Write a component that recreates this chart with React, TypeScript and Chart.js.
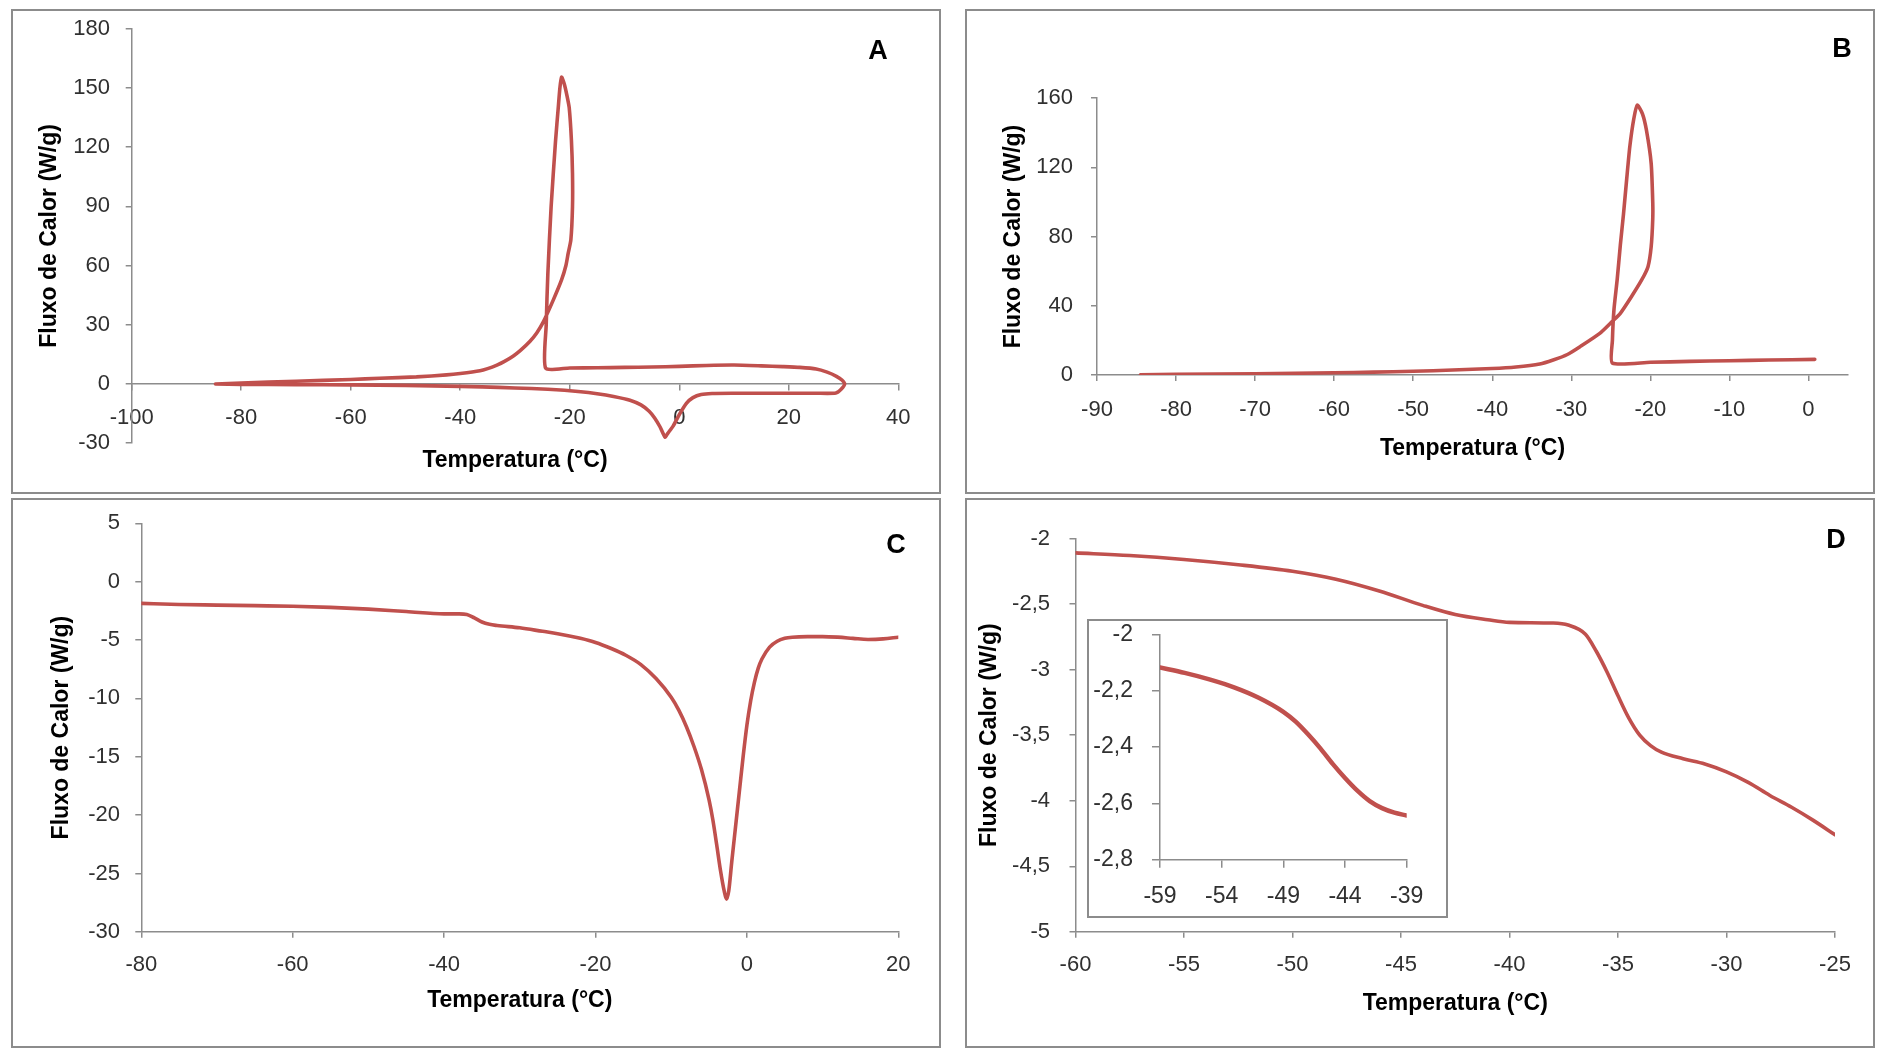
import React, { useEffect, useRef } from "react";
import { Chart, registerables } from "chart.js";

Chart.register(...registerables);

// ---------------- data ----------------
// Panel A: full DSC cycle (heating branch, then cooling branch with crystallisation peak)
const A_TEMP = [
  -84.7, -80, -70, -60, -50, -45, -40, -36, -30, -24, -18, -15, -12, -9, -7, -5.5, -4.5, -3.5, -2.6, -2.1,
  -1.1, 0, 1.3, 2.5, 4, 6, 10, 15, 20, 25, 28.6, 29.6, 30.2, 29.7, 28.7, 27, 25, 22, 18.9, 15,
  10, 5, 0, -5, -10, -15, -20, -24.4,
  -24.3, -24.0, -23.4, -22.6, -22.1, -21.8, -21.5,
  -21.0, -20.5, -20.1, -19.7, -19.5, -19.5, -19.8, -20.3, -20.7, -21.5, -23, -24.8, -26, -27.3, -29,
  -30.3, -32, -33.3, -35, -36.4, -40, -42.5, -48, -54.7, -60, -70, -80, -84.7,
];
const A_FLUX = [
  0, -0.2, -0.3, -0.45, -0.7, -0.95, -1.2, -1.45, -2.0, -2.7, -3.9, -4.9, -6.3, -8.2, -10.6, -13.8, -17.2, -21.8, -26.9, -25,
  -21.2, -15.5, -9.8, -6.9, -5.3, -4.8, -4.7, -4.7, -4.7, -4.7, -4.6, -2.6, 0, 2, 3.9, 6, 7.6, 8.4, 8.8, 9.2,
  9.6, 9.4, 8.9, 8.6, 8.4, 8.2, 8.1, 8.0,
  30, 56, 90, 123, 140, 150, 155.5,
  152, 146, 140, 123.6, 106.7, 89.8, 73, 66, 60, 52.7, 42.6, 31.6, 26, 21.5, 17,
  14.2, 11.3, 9.6, 7.8, 6.7, 5.3, 4.6, 3.6, 2.9, 2.3, 1.4, 0.5, 0,
];
const A_X_TICKS = [-100, -80, -60, -40, -20, 0, 20, 40];
const A_Y_TICKS = [-30, 0, 30, 60, 90, 120, 150, 180];

// Panel B: cooling run
const B_TEMP = [
  0.8, -5, -10, -15, -20, -24.8, -24.8, -24.6, -24.2, -23.8, -23.4, -23.0, -22.6, -22.1, -21.65,
  -21.0, -20.5, -19.9, -19.7, -19.7, -19.9, -20.3, -21.1, -22.4, -23.8, -24.8, -26.4, -28.9, -30.5,
  -32.3, -34, -37, -40, -45, -50, -55, -60, -70, -80, -84.5,
];
const B_FLUX = [
  9.0, 8.6, 8.2, 7.8, 7.3, 6.8, 20, 38, 55, 75, 93, 113, 132, 148, 156,
  151, 141.6, 122.4, 100, 90, 74, 62.6, 54.9, 45.2, 35.6, 31, 24, 16.3, 11.8,
  8.6, 6.3, 4.6, 3.7, 2.8, 2.1, 1.6, 1.2, 0.7, 0.3, 0.1,
];
const B_X_TICKS = [-90, -80, -70, -60, -50, -40, -30, -20, -10, 0];
const B_Y_TICKS = [0, 40, 80, 120, 160];

// Panel C: heating run
const C_TEMP = [
  -80, -75, -70, -65, -60, -55, -50, -45, -40, -38, -37, -36, -35, -34, -33, -30, -27, -25, -22, -20,
  -18, -16, -14, -12, -10, -9, -8, -7, -6, -5, -4.5, -4, -3.5, -3, -2.7, -2.4, -2, -1.5, -1, -0.5,
  0, 0.5, 1, 1.5, 2, 3, 4, 5, 6, 8, 10, 12, 14, 16, 18, 20,
];
const C_FLUX = [
  -1.85, -1.95, -2.0, -2.05, -2.1, -2.2, -2.35, -2.55, -2.75, -2.75, -2.8, -3.1, -3.45, -3.65, -3.75, -3.95, -4.25, -4.45, -4.85, -5.2,
  -5.7, -6.3, -7.1, -8.3, -9.9, -11, -12.4, -14.1, -16.1, -18.7, -20.4, -22.5, -24.7, -26.5, -27.2, -26.5, -24, -21, -18, -15,
  -12.3, -10.2, -8.6, -7.4, -6.6, -5.6, -5.1, -4.85, -4.75, -4.7, -4.7, -4.75, -4.85, -4.95, -4.9, -4.75,
];
const C_X_TICKS = [-80, -60, -40, -20, 0, 20];
const C_Y_TICKS = [-30, -25, -20, -15, -10, -5, 0, 5];

// Panel D: glass transition detail
const D_TEMP = [
  -60, -57.5, -55, -52.5, -50, -48, -46, -44, -42.5, -41, -40, -38, -37.3, -36.5, -36,
  -35.5, -35, -34.5, -34, -33.5, -33, -32, -31, -30, -29, -28, -27, -26, -25,
];
const D_FLUX = [
  -2.11, -2.13, -2.16, -2.2, -2.25, -2.31, -2.4, -2.51, -2.58, -2.62, -2.64, -2.645, -2.66, -2.73, -2.86,
  -3.02, -3.2, -3.37, -3.5, -3.58, -3.63, -3.68, -3.72, -3.78, -3.86, -3.96, -4.05, -4.15, -4.26,
];
const D_X_TICKS = [-60, -55, -50, -45, -40, -35, -30, -25];
const D_Y_TICKS = [-5, -4.5, -4, -3.5, -3, -2.5, -2];

// Inset of panel D
const INSET_TEMP = [-59, -57, -55, -53, -51, -49, -48, -47, -46, -45, -44, -43, -42, -41, -40, -39];
const INSET_FLUX = [
  -2.118, -2.137, -2.16, -2.188, -2.225, -2.275, -2.31, -2.355, -2.405, -2.46, -2.51, -2.555, -2.592,
  -2.617, -2.633, -2.643,
];
const INSET_X_TICKS = [-59, -54, -49, -44, -39];
const INSET_Y_TICKS = [-2.8, -2.6, -2.4, -2.2, -2];

const X_TITLE = "Temperatura (°C)";
const Y_TITLE = "Fluxo de Calor (W/g)";

// ---------------- styles ----------------
const RED = "#C0504D";
const AXIS_COLOR = "#8c8c8c";
const AXIS_W = 1.5;
const TICK_COLOR = "#303030";
const FONT = "'Liberation Sans', Arial, sans-serif";
const TITLE_SIZE = 23;

const fmt = (v: number) => String(Math.round(v * 100) / 100).replace(".", ",");

type Spec = {
  box: { l: number; t: number; w: number; h: number };
  plot: { l: number; t: number; r: number; b: number };
  xs: number[];
  ys: number[];
  xMin: number;
  xMax: number;
  yMin: number;
  yMax: number;
  xTicks: number[];
  yTicks: number[];
  xAtZero?: boolean;
  xTitleY?: number;
  yTitleX?: number;
  tickSize: number;
  tickLen: number;
  xLabelY: number;
  yLabelRight: number;
  lineWidth: number;
  tension: number;
  monotone?: boolean;
};

const SPEC_A: Spec = {
  box: { l: 13, t: 11, w: 926, h: 481 },
  plot: { l: 131.7, t: 28.7, r: 898.3, b: 443.2 },
  xs: A_TEMP, ys: A_FLUX,
  xMin: -100, xMax: 40, yMin: -30, yMax: 180,
  xTicks: A_X_TICKS, yTicks: A_Y_TICKS,
  xAtZero: true, xTitleY: 461, yTitleX: 50,
  tickSize: 22, tickLen: 6, xLabelY: 418, yLabelRight: 110,
  lineWidth: 3.6, tension: 0.2,
};
const SPEC_B: Spec = {
  box: { l: 967, t: 11, w: 906, h: 481 },
  plot: { l: 1097, t: 98.2, r: 1848, b: 374.9 },
  xs: B_TEMP, ys: B_FLUX,
  xMin: -90, xMax: 5, yMin: 0, yMax: 160,
  xTicks: B_X_TICKS, yTicks: B_Y_TICKS,
  xTitleY: 449, yTitleX: 1014,
  tickSize: 22, tickLen: 6, xLabelY: 409.6, yLabelRight: 1073,
  lineWidth: 3.6, tension: 0.2,
};
const SPEC_C: Spec = {
  box: { l: 13, t: 500, w: 926, h: 546 },
  plot: { l: 141.3, t: 523.4, r: 898.3, b: 931.8 },
  xs: C_TEMP, ys: C_FLUX,
  xMin: -80, xMax: 20, yMin: -30, yMax: 5,
  xTicks: C_X_TICKS, yTicks: C_Y_TICKS,
  xTitleY: 1001, yTitleX: 62,
  tickSize: 22, tickLen: 6, xLabelY: 965.4, yLabelRight: 120,
  lineWidth: 3.6, tension: 0.4, monotone: true,
};
const SPEC_D: Spec = {
  box: { l: 967, t: 500, w: 906, h: 546 },
  plot: { l: 1075.5, t: 538.5, r: 1835, b: 931.8 },
  xs: D_TEMP, ys: D_FLUX,
  xMin: -60, xMax: -25, yMin: -5, yMax: -2,
  xTicks: D_X_TICKS, yTicks: D_Y_TICKS,
  xTitleY: 1003.7, yTitleX: 990,
  tickSize: 22, tickLen: 6, xLabelY: 965.4, yLabelRight: 1050,
  lineWidth: 3.6, tension: 0.4, monotone: true,
};
const SPEC_INSET: Spec = {
  box: { l: 1089, t: 621, w: 357, h: 295 },
  plot: { l: 1160, t: 634.3, r: 1406.7, b: 859.7 },
  xs: INSET_TEMP, ys: INSET_FLUX,
  xMin: -59, xMax: -39, yMin: -2.8, yMax: -2,
  xTicks: INSET_X_TICKS, yTicks: INSET_Y_TICKS,
  tickSize: 23, tickLen: 8, xLabelY: 896.7, yLabelRight: 1133,
  lineWidth: 4.5, tension: 0.4, monotone: true,
};

function Panel({ spec }: { spec: Spec }) {
  const ref = useRef<HTMLCanvasElement | null>(null);
  useEffect(() => {
    const canvas = ref.current;
    if (!canvas) return;
    const s = spec;
    const W = s.box.w;
    const H = s.box.h;
    const pl = s.plot.l - s.box.l;
    const pt = s.plot.t - s.box.t;
    const pr = s.plot.r - s.box.l;
    const pb = s.plot.b - s.box.t;
    const tLH = TITLE_SIZE * 1.2;
    const kLH = s.tickSize * 1.2;
    const tp = 2;
    const yW = s.yTitleX !== undefined ? pl - (s.yTitleX - s.box.l) + tLH / 2 + tp : pl - 1;
    const y0 = s.xAtZero ? pt + (s.yMax / (s.yMax - s.yMin)) * (pb - pt) : pb;
    let xH: number;
    let padB: number;
    if (s.xAtZero) {
      padB = H - pb;
      xH = (s.xTitleY as number) - s.box.t - y0 + tLH / 2 + tp;
    } else if (s.xTitleY !== undefined) {
      xH = s.xTitleY - s.box.t - pb + tLH / 2 + tp;
      padB = H - pb - xH;
    } else {
      xH = H - pb - 1;
      padB = 1;
    }
    const xTickPad = s.xLabelY - s.box.t - y0 - s.tickLen - kLH / 2;
    const yTickPad = s.plot.l - s.yLabelRight - s.tickLen;
    const tickFont = { family: FONT, size: s.tickSize };
    const titleFont = { family: FONT, size: TITLE_SIZE, weight: "bold" as const };
    const noMargins = (sc: any) => {
      sc.paddingTop = 0;
      sc.paddingBottom = 0;
      sc.paddingLeft = 0;
      sc.paddingRight = 0;
    };

    const chart = new Chart(canvas, {
      type: "scatter",
      data: {
        datasets: [
          {
            data: s.xs.map((x, i) => ({ x, y: s.ys[i] })),
            showLine: true,
            borderColor: RED,
            backgroundColor: RED,
            borderWidth: s.lineWidth,
            pointRadius: 0,
            pointHoverRadius: 0,
            tension: s.tension,
            cubicInterpolationMode: s.monotone ? "monotone" : "default",
            fill: false,
            borderCapStyle: "round",
            borderJoinStyle: "round",
          } as any,
        ],
      },
      options: {
        animation: false,
        responsive: false,
        maintainAspectRatio: false,
        events: [],
        layout: { padding: { left: pl - yW, top: pt, right: W - pr, bottom: padB } },
        plugins: { legend: { display: false }, tooltip: { enabled: false }, title: { display: false } },
        scales: {
          x: {
            type: "linear",
            position: (s.xAtZero ? { y: 0 } : "bottom") as any,
            min: s.xMin,
            max: s.xMax,
            afterBuildTicks: (sc: any) => {
              sc.ticks = s.xTicks.map((v) => ({ value: v }));
            },
            afterFit: (sc: any) => {
              sc.height = xH;
              noMargins(sc);
            },
            ticks: {
              font: tickFont,
              color: TICK_COLOR,
              padding: xTickPad,
              maxRotation: 0,
              autoSkip: false,
              callback: (v: any) => fmt(Number(v)),
            },
            grid: {
              drawOnChartArea: false,
              drawTicks: true,
              tickLength: s.tickLen,
              color: AXIS_COLOR,
              lineWidth: AXIS_W,
            },
            border: { display: true, color: AXIS_COLOR, width: AXIS_W },
            title:
              s.xTitleY !== undefined
                ? { display: true, text: X_TITLE, font: titleFont, color: "#000", padding: { top: 0, bottom: tp } }
                : { display: false },
          },
          y: {
            type: "linear",
            position: "left",
            min: s.yMin,
            max: s.yMax,
            afterBuildTicks: (sc: any) => {
              sc.ticks = s.yTicks.map((v) => ({ value: v }));
            },
            afterFit: (sc: any) => {
              sc.width = yW;
              noMargins(sc);
            },
            ticks: {
              font: tickFont,
              color: TICK_COLOR,
              padding: yTickPad,
              autoSkip: false,
              callback: (v: any) => fmt(Number(v)),
            },
            grid: {
              drawOnChartArea: false,
              drawTicks: true,
              tickLength: s.tickLen,
              color: AXIS_COLOR,
              lineWidth: AXIS_W,
            },
            border: { display: true, color: AXIS_COLOR, width: AXIS_W },
            title:
              s.yTitleX !== undefined
                ? { display: true, text: Y_TITLE, font: titleFont, color: "#000", padding: { top: tp, bottom: 0 } }
                : { display: false },
          },
        },
      } as any,
    });
    return () => chart.destroy();
  }, [spec]);
  return (
    <canvas
      ref={ref}
      width={spec.box.w}
      height={spec.box.h}
      style={{
        position: "absolute",
        left: spec.box.l,
        top: spec.box.t,
        width: spec.box.w,
        height: spec.box.h,
      }}
    />
  );
}

function Frame({ box, width = 2 }: { box: { l: number; t: number; w: number; h: number }; width?: number }) {
  return (
    <div
      style={{
        position: "absolute",
        left: box.l - width,
        top: box.t - width,
        width: box.w + 2 * width,
        height: box.h + 2 * width,
        boxSizing: "border-box",
        border: `${width}px solid #8c8c8c`,
        background: "#fff",
      }}
    />
  );
}

function Letter({ text, x, y }: { text: string; x: number; y: number }) {
  return (
    <div
      style={{
        position: "absolute",
        left: x,
        top: y,
        transform: "translate(-50%, -50%)",
        fontFamily: FONT,
        fontWeight: "bold",
        fontSize: 27,
        color: "#000",
        lineHeight: 1,
      }}
    >
      {text}
    </div>
  );
}

export default function App() {
  return (
    <div
      style={{
        position: "absolute",
        left: 0,
        top: 0,
        width: 1878,
        height: 1048,
        background: "#fff",
        overflow: "hidden",
      }}
    >
      <Frame box={SPEC_A.box} />
      <Frame box={SPEC_B.box} />
      <Frame box={SPEC_C.box} />
      <Frame box={SPEC_D.box} />
      <Panel spec={SPEC_A} />
      <Panel spec={SPEC_B} />
      <Panel spec={SPEC_C} />
      <Panel spec={SPEC_D} />
      <Frame box={SPEC_INSET.box} />
      <Panel spec={SPEC_INSET} />
      <Letter text="A" x={878} y={50} />
      <Letter text="B" x={1842} y={48} />
      <Letter text="C" x={896} y={544} />
      <Letter text="D" x={1836} y={539} />
    </div>
  );
}
